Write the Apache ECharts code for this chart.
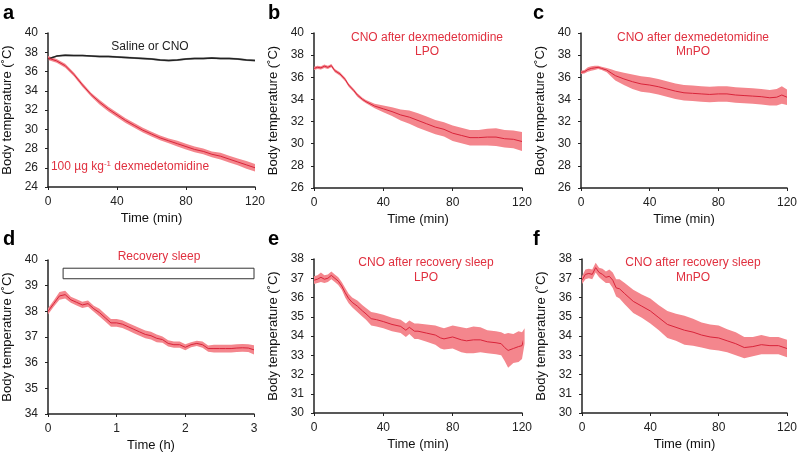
<!DOCTYPE html>
<html>
<head>
<meta charset="utf-8">
<script src="https://cdn.jsdelivr.net/npm/echarts@6/dist/echarts.min.js"></script>
<style>
  html, body { margin: 0; padding: 0; background: #fff; }
  #chart { width: 800px; height: 467px; }
</style>
</head>
<body>
<div id="chart"></div>
<script>
// panel a: dexmedetomidine vs saline, 5 min steps
const timeA = [0, 5, 10, 15, 20, 25, 30, 35, 40, 45, 50, 55, 60, 65, 70, 75, 80, 85, 90, 95, 100, 105, 110, 115, 120]
const dexMeanA = [37.4, 37.1, 36.6, 35.7, 34.6, 33.6, 32.8, 32.1, 31.5, 30.9, 30.4, 29.9, 29.5, 29.1, 28.8, 28.5, 28.2, 27.9, 27.7, 27.4, 27.2, 26.9, 26.6, 26.3, 26.0]
const dexSemA = [0.2, 0.2, 0.2, 0.2, 0.2, 0.2, 0.25, 0.25, 0.25, 0.25, 0.25, 0.25, 0.25, 0.25, 0.25, 0.3, 0.3, 0.3, 0.3, 0.3, 0.35, 0.35, 0.35, 0.4, 0.4]
const salineMeanA = [37.3, 37.6, 37.7, 37.65, 37.65, 37.6, 37.55, 37.55, 37.5, 37.45, 37.4, 37.35, 37.3, 37.2, 37.15, 37.2, 37.3, 37.35, 37.35, 37.4, 37.35, 37.35, 37.3, 37.2, 37.15]
const salineSemA = [0.1, 0.1, 0.1, 0.1, 0.1, 0.1, 0.1, 0.1, 0.1, 0.1, 0.1, 0.1, 0.1, 0.1, 0.1, 0.1, 0.1, 0.1, 0.1, 0.1, 0.1, 0.1, 0.1, 0.1, 0.1]

// panel b: CNO after dexmedetomidine, LPO
const timeB = [0, 2, 4, 6, 8, 10, 12, 15, 18, 20, 23, 25, 28, 30, 35, 40, 45, 50, 55, 60, 65, 70, 75, 80, 85, 90, 95, 100, 105, 110, 115, 120]
const meanB = [36.8, 36.9, 36.85, 37.0, 36.9, 37.05, 36.6, 36.3, 35.8, 35.3, 34.8, 34.4, 34.0, 33.8, 33.4, 33.15, 32.9, 32.6, 32.4, 32.1, 31.8, 31.5, 31.3, 30.95, 30.75, 30.55, 30.55, 30.6, 30.6, 30.45, 30.4, 30.2]
const semB = [0.15, 0.15, 0.15, 0.15, 0.15, 0.15, 0.15, 0.15, 0.15, 0.15, 0.15, 0.15, 0.15, 0.15, 0.2, 0.3, 0.4, 0.5, 0.6, 0.65, 0.65, 0.65, 0.65, 0.7, 0.7, 0.7, 0.7, 0.75, 0.8, 0.8, 0.8, 0.85]

// panel c: CNO after dexmedetomidine, MnPO
const timeC = [0, 2, 4, 6, 8, 10, 12, 15, 18, 20, 25, 30, 35, 40, 45, 50, 55, 60, 65, 70, 75, 80, 85, 90, 95, 100, 105, 110, 114, 117, 120]
const meanC = [36.45, 36.5, 36.7, 36.8, 36.85, 36.9, 36.8, 36.65, 36.35, 36.15, 35.85, 35.6, 35.4, 35.3, 35.15, 34.95, 34.75, 34.6, 34.55, 34.5, 34.45, 34.5, 34.5, 34.4, 34.35, 34.3, 34.25, 34.15, 34.2, 34.4, 34.2]
const semC = [0.15, 0.15, 0.2, 0.2, 0.2, 0.15, 0.15, 0.2, 0.35, 0.45, 0.55, 0.65, 0.7, 0.7, 0.7, 0.7, 0.7, 0.7, 0.7, 0.7, 0.7, 0.7, 0.7, 0.7, 0.7, 0.7, 0.7, 0.7, 0.75, 0.8, 0.7]

// panel d: recovery sleep, hours
const timeD = [0, 0.083, 0.167, 0.25, 0.333, 0.417, 0.5, 0.583, 0.667, 0.75, 0.833, 0.917, 1.0, 1.083, 1.167, 1.25, 1.333, 1.417, 1.5, 1.583, 1.667, 1.75, 1.833, 1.917, 2.0, 2.083, 2.167, 2.25, 2.333, 2.417, 2.5, 2.583, 2.667, 2.75, 2.833, 2.917, 3.0]
const meanD = [38.0, 38.3, 38.6, 38.65, 38.45, 38.35, 38.25, 38.3, 38.1, 37.95, 37.75, 37.55, 37.55, 37.5, 37.4, 37.3, 37.2, 37.1, 37.05, 36.95, 36.9, 36.75, 36.7, 36.7, 36.6, 36.7, 36.75, 36.7, 36.55, 36.55, 36.55, 36.55, 36.55, 36.57, 36.58, 36.57, 36.5]
const semD = [0.12, 0.12, 0.15, 0.15, 0.12, 0.12, 0.12, 0.12, 0.12, 0.15, 0.15, 0.15, 0.15, 0.15, 0.15, 0.15, 0.15, 0.15, 0.15, 0.15, 0.12, 0.12, 0.12, 0.12, 0.12, 0.1, 0.1, 0.12, 0.12, 0.15, 0.15, 0.15, 0.15, 0.15, 0.15, 0.15, 0.18]
const sleepBox = [0.22, 3.0, 39.27, 39.68]

// panel e: CNO after recovery sleep, LPO
const timeE = [0, 2, 4, 6, 8, 10, 12, 14, 16, 18, 20, 22, 25, 28, 30, 33, 36, 40, 45, 50, 53, 55, 58, 60, 65, 70, 73, 75, 80, 85, 88, 92, 96, 100, 105, 108, 110, 112, 115, 118, 120, 121.5]
const meanE = [36.9, 36.95, 37.05, 36.95, 37.0, 37.15, 37.0, 36.85, 36.6, 36.25, 35.95, 35.75, 35.55, 35.3, 35.15, 34.9, 34.85, 34.75, 34.6, 34.5, 34.3, 34.45, 34.25, 34.25, 34.15, 34.05, 33.9, 33.85, 33.95, 33.8, 33.75, 33.8, 33.8, 33.7, 33.65, 33.6, 33.4, 33.25, 33.35, 33.45, 33.5, 34.0]
const semE = [0.2, 0.2, 0.25, 0.2, 0.2, 0.2, 0.2, 0.2, 0.2, 0.25, 0.25, 0.25, 0.3, 0.3, 0.3, 0.35, 0.35, 0.35, 0.35, 0.35, 0.35, 0.35, 0.4, 0.4, 0.45, 0.5, 0.55, 0.55, 0.6, 0.65, 0.65, 0.7, 0.65, 0.6, 0.6, 0.6, 0.7, 0.9, 0.75, 0.8, 0.7, 0.4]

// panel f: CNO after recovery sleep, MnPO
const timeF = [0, 2, 4, 6, 8, 10, 12, 14, 16, 18, 20, 22, 25, 30, 35, 40, 45, 50, 55, 60, 65, 70, 75, 80, 85, 90, 95, 100, 105, 110, 115, 120]
const meanF = [36.9, 37.2, 37.25, 37.2, 37.55, 37.3, 37.2, 37.05, 37.1, 36.9, 36.5, 36.45, 36.2, 35.8, 35.55, 35.3, 34.95, 34.6, 34.45, 34.3, 34.2, 34.05, 33.95, 33.9, 33.75, 33.6, 33.4, 33.45, 33.55, 33.5, 33.5, 33.35]
const semF = [0.2, 0.25, 0.25, 0.25, 0.25, 0.25, 0.3, 0.3, 0.35, 0.4, 0.45, 0.5, 0.55, 0.6, 0.6, 0.65, 0.65, 0.7, 0.7, 0.75, 0.7, 0.65, 0.65, 0.65, 0.6, 0.6, 0.55, 0.5, 0.5, 0.45, 0.45, 0.45]

const RED = '#d9243a'
const BAND = '#f4868d'
const TXT_RED = '#e0303f'
const FONT = 'Liberation Sans, Arial, sans-serif'

const chart = echarts.init(document.getElementById('chart'))

const grids = [
  { left: 48, top: 33, width: 207, height: 154 },
  { left: 314, top: 33, width: 208, height: 155 },
  { left: 581, top: 33, width: 208, height: 155 },
  { left: 48, top: 260, width: 206, height: 154 },
  { left: 314, top: 259, width: 208, height: 154 },
  { left: 582, top: 259, width: 207, height: 154 },
]

const axisBase = {
  type: 'value',
  axisLine: { show: true, lineStyle: { color: '#222', width: 1.5 } },
  axisTick: { show: true, length: 3, lineStyle: { color: '#222' } },
  axisLabel: { color: '#222', fontSize: 12, fontFamily: FONT },
  splitLine: { show: false },
  nameTextStyle: { color: '#111', fontSize: 13, fontFamily: FONT },
  nameLocation: 'middle',
}

const xRanges = [[0, 120, 40], [0, 120, 40], [0, 120, 40], [0, 3, 1], [0, 120, 40], [0, 120, 40]]
const yRanges = [[24, 40, 2], [26, 40, 2], [26, 40, 2], [34, 40, 1], [30, 38, 1], [30, 38, 1]]

const xAxes = xRanges.map((r, i) => Object.assign({}, axisBase, {
  gridIndex: i, min: r[0], max: r[1], interval: r[2],
  axisLabel: Object.assign({}, axisBase.axisLabel, { margin: 9 }),
  name: i === 3 ? 'Time (h)' : 'Time (min)', nameGap: 25,
}))
const yAxes = yRanges.map((r, i) => Object.assign({}, axisBase, {
  gridIndex: i, min: r[0], max: r[1], interval: r[2],
  axisLabel: Object.assign({}, axisBase.axisLabel, { margin: 10 }),
  name: 'Body temperature (˚C)', nameGap: 34,
}))

// SEM band as one polygon (custom series) + mean line
function band(idx, t, mean, sem, lineColor, bandColor, lineW) {
  const rows = t.map((x, k) => [x, mean[k] - sem[k], mean[k] + sem[k]])
  return [
    {
      type: 'custom', xAxisIndex: idx, yAxisIndex: idx, data: rows, silent: true, clip: false,
      encode: { x: 0, y: [1, 2] },
      renderItem: function (params, api) {
        if (params.dataIndex !== 0) return null
        const pts = []
        rows.forEach(r => pts.push(api.coord([r[0], r[2]])))
        for (let k = rows.length - 1; k >= 0; k--) pts.push(api.coord([rows[k][0], rows[k][1]]))
        return { type: 'polygon', shape: { points: pts }, style: { fill: bandColor } }
      },
    },
    { type: 'line', xAxisIndex: idx, yAxisIndex: idx, data: t.map((x, k) => [x, mean[k]]), symbol: 'none',
      lineStyle: { color: lineColor, width: lineW || 1 }, silent: true, clip: false, z: 3 },
  ]
}

const seriesD = band(3, timeD, meanD, semD, RED, BAND)
seriesD[1].markArea = {
  silent: true,
  itemStyle: { color: 'rgba(255,255,255,0)', borderColor: '#333', borderWidth: 1 },
  data: [[{ xAxis: sleepBox[0], yAxis: sleepBox[3] }, { xAxis: sleepBox[1], yAxis: sleepBox[2] }]],
}

const series = [].concat(
  band(0, timeA, salineMeanA, salineSemA, '#222', '#9a9a9a', 1.5),
  band(0, timeA, dexMeanA, dexSemA, RED, BAND),
  band(1, timeB, meanB, semB, RED, BAND),
  band(2, timeC, meanC, semC, RED, BAND),
  seriesD,
  band(4, timeE, meanE, semE, RED, BAND),
  band(5, timeF, meanF, semF, RED, BAND),
)

function txt(x, y, text, color, size, weight) {
  return { type: 'text', x: x, y: y, silent: true, z: 10,
    style: { text: text, fill: color, fontSize: size || 12, fontWeight: weight || 'normal',
      fontFamily: FONT, textAlign: weight ? 'left' : 'center', textVerticalAlign: weight ? 'top' : 'middle' } }
}

const graphic = [
  txt(3, 3, 'a', '#000', 20, 'bold'),
  txt(268, 3, 'b', '#000', 20, 'bold'),
  txt(533, 3, 'c', '#000', 20, 'bold'),
  txt(3, 229, 'd', '#000', 20, 'bold'),
  txt(268, 229, 'e', '#000', 20, 'bold'),
  txt(533, 229, 'f', '#000', 20, 'bold'),
  txt(150, 47, 'Saline or CNO', '#222', 12),
  {
    type: 'text', x: 130, y: 167, silent: true, z: 10,
    style: {
      text: '{n|100 µg kg}{s|-1}{n| dexmedetomidine}',
      textAlign: 'center', textVerticalAlign: 'middle',
      rich: {
        n: { fill: TXT_RED, fontSize: 12, fontFamily: FONT },
        s: { fill: TXT_RED, fontSize: 8, fontFamily: FONT, verticalAlign: 'top', padding: [0, 0, 6, 0] },
      },
    },
  },
  txt(427, 38, 'CNO after dexmedetomidine', TXT_RED, 12),
  txt(427, 52, 'LPO', TXT_RED, 12),
  txt(693, 38, 'CNO after dexmedetomidine', TXT_RED, 12),
  txt(693, 52, 'MnPO', TXT_RED, 12),
  txt(159, 257, 'Recovery sleep', TXT_RED, 12),
  txt(426, 263, 'CNO after recovery sleep', TXT_RED, 12),
  txt(426, 278, 'LPO', TXT_RED, 12),
  txt(693, 263, 'CNO after recovery sleep', TXT_RED, 12),
  txt(693, 278, 'MnPO', TXT_RED, 12),
]

chart.setOption({
  animation: false,
  backgroundColor: '#fff',
  grid: grids,
  xAxis: xAxes,
  yAxis: yAxes,
  series: series,
  graphic: graphic,
})
</script>
</body>
</html>
